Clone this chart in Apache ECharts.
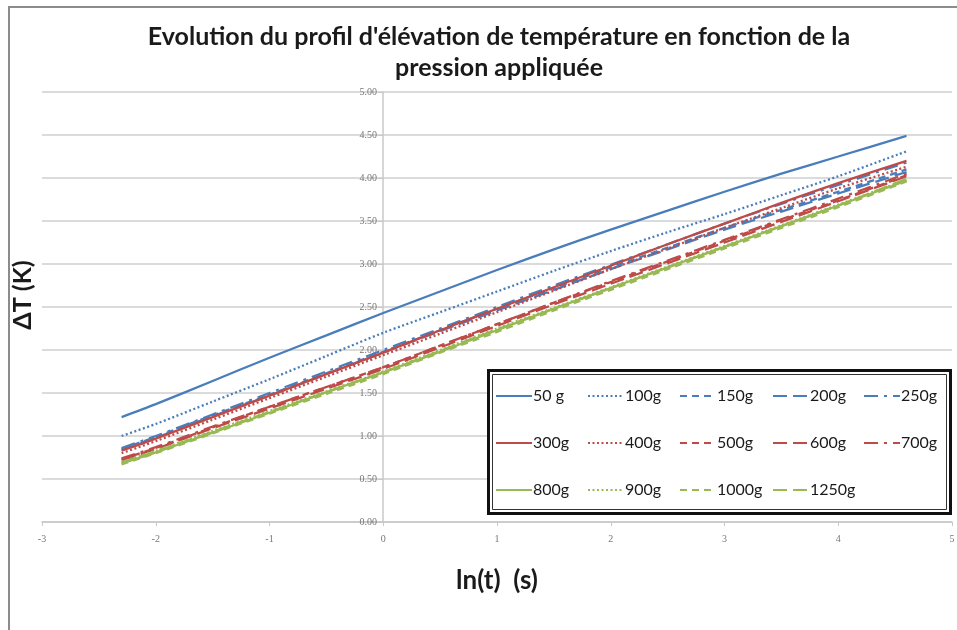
<!DOCTYPE html>
<html>
<head>
<meta charset="utf-8">
<script src="https://cdn.jsdelivr.net/npm/echarts@6/dist/echarts.min.js"></script>
<style>html,body{margin:0;padding:0;background:#fff}#c{width:957px;height:630px}</style>
</head>
<body>
<div id="c"></div>
<script>
// ln(t) sample positions
const lnT = [-2.3, -2, -1.5, -1, -0.5, 0, 0.5, 1, 1.5, 2, 2.5, 3, 3.5, 4, 4.6];

// ΔT (K) per applied mass
const s50   = [1.22, 1.37, 1.64, 1.91, 2.17, 2.43, 2.68, 2.93, 3.17, 3.40, 3.62, 3.84, 4.05, 4.25, 4.49];
const s100  = [1.00, 1.14, 1.40, 1.66, 1.93, 2.20, 2.44, 2.68, 2.92, 3.15, 3.37, 3.58, 3.80, 4.02, 4.31];
const s150  = [0.85, 0.99, 1.24, 1.48, 1.73, 1.98, 2.23, 2.48, 2.72, 2.96, 3.19, 3.42, 3.63, 3.84, 4.10];
const s200  = [0.84, 0.98, 1.23, 1.47, 1.72, 1.97, 2.22, 2.46, 2.70, 2.94, 3.17, 3.40, 3.61, 3.82, 4.07];
const s250  = [0.86, 1.00, 1.25, 1.50, 1.75, 2.00, 2.25, 2.50, 2.75, 2.99, 3.23, 3.47, 3.70, 3.92, 4.18];
const s300  = [0.83, 0.97, 1.22, 1.47, 1.72, 1.97, 2.23, 2.48, 2.73, 2.98, 3.23, 3.47, 3.71, 3.94, 4.20];
const s400  = [0.80, 0.94, 1.19, 1.44, 1.69, 1.94, 2.19, 2.44, 2.69, 2.94, 3.18, 3.42, 3.65, 3.88, 4.13];
const s500  = [0.73, 0.86, 1.10, 1.34, 1.57, 1.80, 2.05, 2.30, 2.55, 2.79, 3.03, 3.27, 3.51, 3.74, 4.03];
const s600  = [0.72, 0.85, 1.09, 1.32, 1.55, 1.78, 2.03, 2.28, 2.53, 2.77, 3.01, 3.25, 3.49, 3.73, 4.02];
const s700  = [0.74, 0.87, 1.11, 1.34, 1.57, 1.80, 2.05, 2.30, 2.55, 2.80, 3.04, 3.28, 3.52, 3.76, 4.05];
const s800  = [0.68, 0.81, 1.04, 1.27, 1.51, 1.74, 1.98, 2.23, 2.48, 2.72, 2.96, 3.20, 3.44, 3.68, 3.97];
const s900  = [0.70, 0.83, 1.06, 1.29, 1.52, 1.75, 2.00, 2.25, 2.49, 2.73, 2.97, 3.21, 3.45, 3.69, 3.98];
const s1000 = [0.67, 0.80, 1.03, 1.26, 1.49, 1.72, 1.97, 2.21, 2.46, 2.70, 2.94, 3.18, 3.42, 3.66, 3.96];
const s1250 = [0.69, 0.82, 1.05, 1.28, 1.51, 1.74, 1.99, 2.24, 2.48, 2.72, 2.96, 3.20, 3.44, 3.68, 3.99];

const names = ['50 g','100g','150g','200g','250g','300g','400g','500g','600g','700g','800g','900g','1000g','1250g'];
const values = [s50,s100,s150,s200,s250,s300,s400,s500,s600,s700,s800,s900,s1000,s1250];

const BLUE = '#4A7EBB', RED = '#BE4B48', GREEN = '#98B954';
const W = 2.3;
const SOLID = 'solid', DOT = [2, 2.5], DASH = [7, 5], LDASH = [14, 6], LDD = [14, 6, 3, 6];
const colors = [BLUE,BLUE,BLUE,BLUE,BLUE,RED,RED,RED,RED,RED,GREEN,GREEN,GREEN,GREEN];
const types  = [SOLID,DOT,DASH,LDASH,LDD,SOLID,DOT,DASH,LDASH,LDD,SOLID,DOT,DASH,LDASH];

const series = names.map((n, i) => ({
  name: n,
  type: 'line',
  data: lnT.map((x, j) => [x, values[i][j]]),
  symbol: 'none',
  smooth: 0.3,
  lineStyle: { color: colors[i], width: W, type: types[i] },
  itemStyle: { color: colors[i] },
  z: 2 + i
}));

// legend: 5 columns, 3 rows
const cols = [['50 g','300g','800g'],['100g','400g','900g'],['150g','500g','1000g'],['200g','600g','1250g'],['250g','700g']];
const colX = [490, 582, 674, 767, 858];
const legends = cols.map((d, k) => ({
  data: d,
  orient: 'vertical',
  left: colX[k],
  top: 383,
  z: 100,
  itemWidth: 36,
  itemHeight: 14,
  itemGap: 31,
  selectedMode: false,
  itemStyle: { opacity: 0 },
  textStyle: { fontFamily: 'Lato', fontSize: 16, color: '#1a1a1a', padding: [0,0,0,-4] }
}));

const chart = echarts.init(document.getElementById('c'));
chart.setOption({
  animation: false,
  backgroundColor: '#fff',
  title: {
    text: "Evolution du profil d'élévation de température en fonction de la\npression appliquée",
    left: 494,
    top: 16,
    textAlign: 'center',
    textStyle: { fontFamily: 'Lato', fontWeight: 'bold', fontSize: 25, color: '#1a1a1a', lineHeight: 31 }
  },
  legend: legends,
  grid: { left: 42, right: 5, top: 92, bottom: 108, containLabel: false, outerBoundsMode: 'none' },
  xAxis: {
    type: 'value', min: -3, max: 5, interval: 1,
    name: 'ln(t)  (s)', nameLocation: 'middle', nameGap: 46,
    nameTextStyle: { fontFamily: 'Lato', fontWeight: 'bold', fontSize: 26, color: '#1a1a1a' },
    axisLine: { onZero: false, lineStyle: { color: '#c8c8c8', width: 1.5 } },
    axisTick: { show: true, length: 4, lineStyle: { color: '#c8c8c8' } },
    axisLabel: { fontFamily: 'Liberation Serif', fontSize: 10, color: '#777', margin: 12 },
    splitLine: { show: false }
  },
  yAxis: {
    type: 'value', min: 0, max: 5, interval: 0.5,
    offset: -341,
    name: 'ΔT (K)', nameLocation: 'middle', nameGap: 348, nameRotate: 90,
    nameTextStyle: { fontFamily: 'Lato', fontWeight: 'bold', fontSize: 25, color: '#1a1a1a', padding: [0,0,0,24] },
    axisLine: { onZero: false, lineStyle: { color: '#c8c8c8', width: 1.5 } },
    axisTick: { show: true, length: 5, lineStyle: { color: '#c8c8c8' } },
    axisLabel: { fontFamily: 'Liberation Serif', fontSize: 10, color: '#777', margin: 6, formatter: v => v.toFixed(2) },
    splitLine: { show: true, lineStyle: { color: '#cfcfcf', width: 1.5 } }
  },
  graphic: [
    { type: 'rect', shape: { x: 9, y: 7, width: 960, height: 640 }, style: { fill: 'none', stroke: '#8c8c8c', lineWidth: 2 }, z: -1 },
    { type: 'rect', shape: { x: 488.5, y: 370.5, width: 462, height: 143 }, style: { fill: '#fff', stroke: '#111', lineWidth: 3 }, z: 40 },
    { type: 'rect', shape: { x: 492.5, y: 374.5, width: 454, height: 135 }, style: { fill: 'none', stroke: '#333', lineWidth: 1 }, z: 41 }
  ],
  series: series
});
</script>
</body>
</html>
